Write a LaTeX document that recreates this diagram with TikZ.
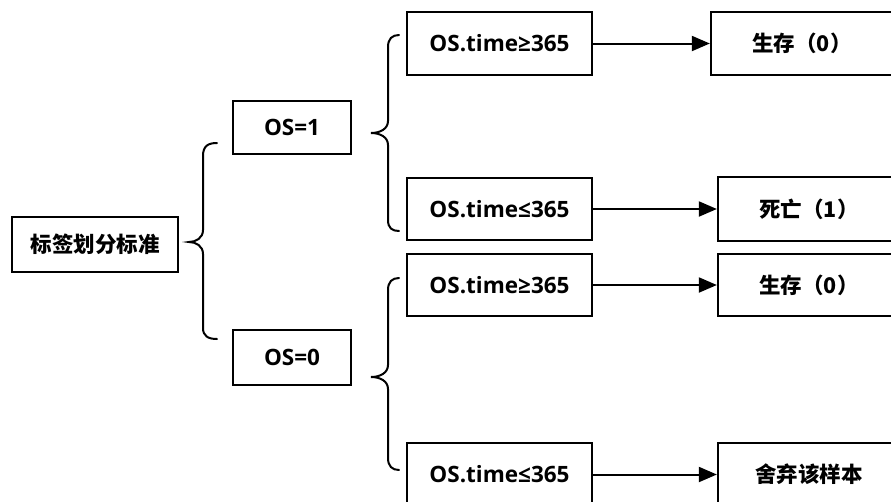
\documentclass[tikz,border=0pt]{standalone}
\usepackage{fontspec}
\setmainfont{Noto Sans CJK SC}
\newfontfamily\latinf{Open Sans}
\usetikzlibrary{arrows.meta}
\begin{document}
\begin{tikzpicture}[x=1pt,y=-1pt,
  box/.style={draw=black,line width=2.3pt,fill=white,inner sep=0pt,font=\fontsize{21.5}{26}\selectfont\bfseries},
  lbox/.style={box,font=\latinf\fontsize{22.5}{27}\selectfont\bfseries},
  brace/.style={draw=black,line width=2pt,line cap=round},
  arr/.style={draw=black,line width=2pt,-{Triangle[length=18pt,width=15pt]}}]
\useasboundingbox (0,0) rectangle (891,501);
\clip (0,0) rectangle (891,501);
\node[box,minimum width=166pt,minimum height=55pt] (root) at (95,244.5) {标签划分标准};
\node[lbox,minimum width=118pt,minimum height=53pt] (os1) at (292,127.5) {OS=1};
\node[lbox,minimum width=118pt,minimum height=55pt] (os0) at (292,357.5) {OS=0};
\node[lbox,minimum width=185pt,minimum height=63pt] (t1) at (499.5,43.5) {OS.time≥365};
\node[lbox,minimum width=185pt,minimum height=62pt] (t2) at (499.5,209) {OS.time≤365};
\node[lbox,minimum width=185pt,minimum height=62pt] (t3) at (499.5,285) {OS.time≥365};
\node[lbox,minimum width=185pt,minimum height=63pt] (t4) at (499.5,474.5) {OS.time≤365};
\node[box,minimum width=182pt,minimum height=63pt] (r1) at (802,43.5) {生存（0）};
\node[box,minimum width=182pt,minimum height=64pt] (r2) at (809,209) {死亡（1）};
\node[box,minimum width=182pt,minimum height=62pt] (r3) at (809,285) {生存（0）};
\node[box,minimum width=182pt,minimum height=63pt] (r4) at (809,474.5) {舍弃该样本};
\draw[arr] (t1.east) -- (r1.west);
\draw[arr] (t2.east) -- (r2.west);
\draw[arr] (t3.east) -- (r3.west);
\draw[arr] (t4.east) -- (r4.west);
% braces
\draw[brace] (217,143) .. controls (208,143) and (203,146) .. (203,156) -- (203,230)
  .. controls (203,238) and (196,242) .. (189,242)
  .. controls (196,242) and (203,246) .. (203,254) -- (203,328)
  .. controls (203,336) and (208,339) .. (217,339);
\draw[brace] (399,35) .. controls (392,35) and (388,39) .. (388,47) -- (388,121)
  .. controls (388,129) and (380,133) .. (371,133)
  .. controls (380,133) and (388,137) .. (388,145) -- (388,220)
  .. controls (388,228) and (392,231) .. (399,231);
\draw[brace] (399,278) .. controls (392,278) and (388,282) .. (388,290) -- (388,365)
  .. controls (388,373) and (380,377) .. (371,377)
  .. controls (380,377) and (388,381) .. (388,389) -- (388,458)
  .. controls (388,466) and (392,470) .. (399,470);
\end{tikzpicture}
\end{document}
